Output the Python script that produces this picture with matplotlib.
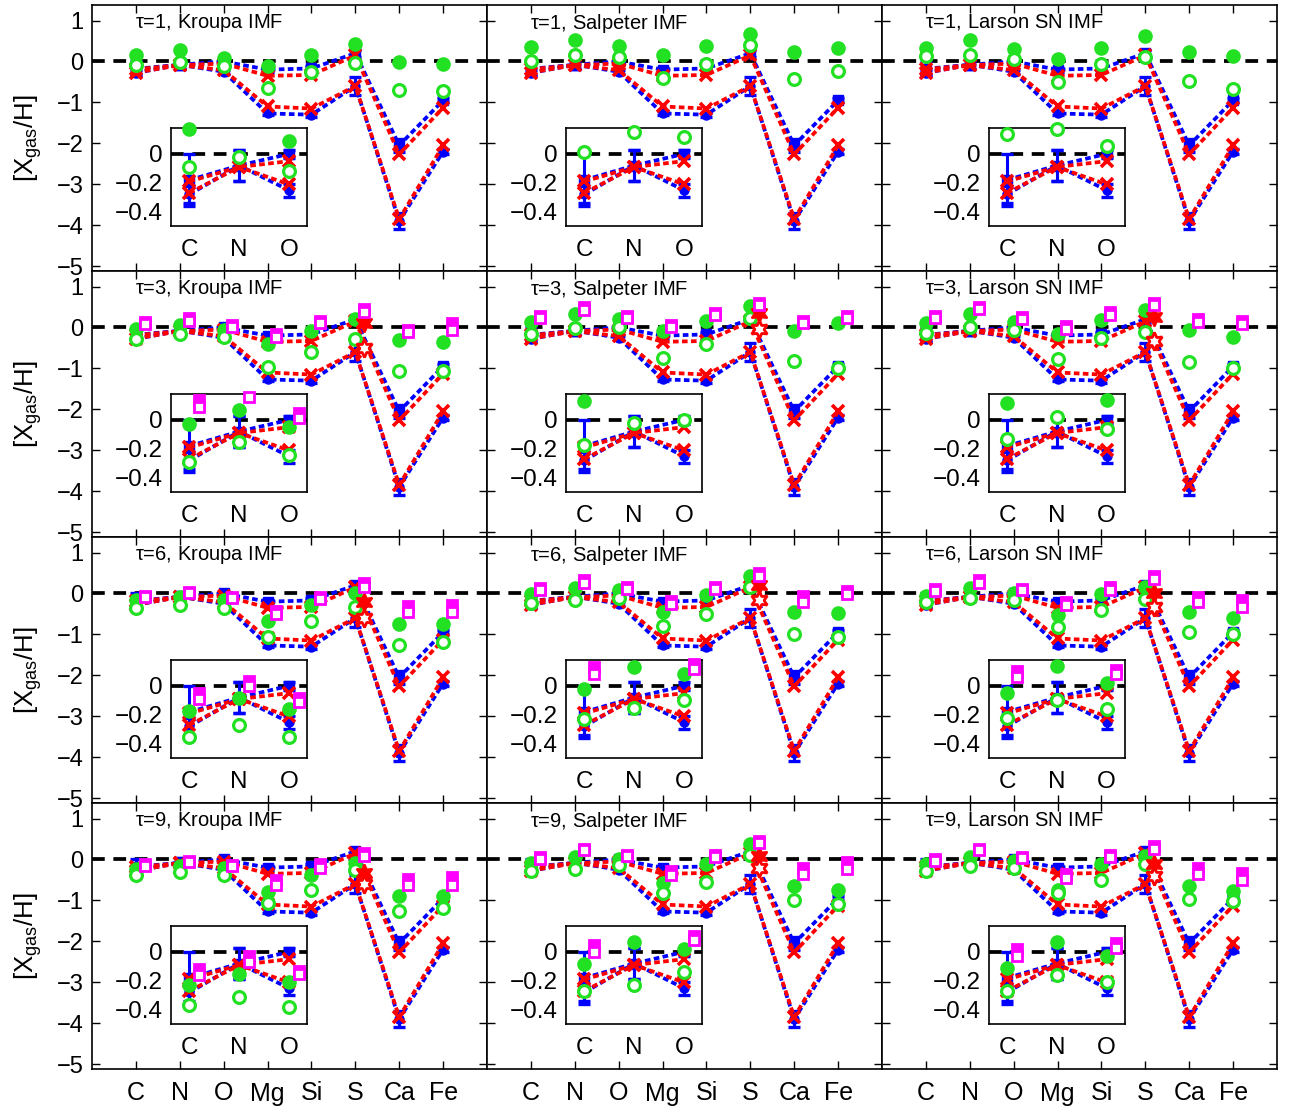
import numpy as np
import matplotlib
matplotlib.use("Agg")
import matplotlib.pyplot as plt

plt.rcParams['font.family'] = ['Liberation Sans', 'DejaVu Sans']

elements = ['C', 'N', 'O', 'Mg', 'Si', 'S', 'Ca', 'Fe']
taus = [1, 3, 6, 9]
imfs = ['Kroupa IMF', 'Salpeter IMF', 'Larson SN IMF']
yticks_main = [-5, -4, -3, -2, -1, 0, 1]
yticks_inset = [-0.4, -0.2, 0]

# observed (blue) and reference model (red) abundances, same in all panels
obs_upper = [-0.18, -0.08, 0.0, -0.2, -0.17, 0.2, -2.05, -0.95]
obs_upper_err = [0.18, 0.11, 0.03, 0.05, 0.05, 0.08, 0.15, 0.05]
obs_lower = [-0.28, -0.08, -0.25, -1.27, -1.3, -0.6, -3.9, -2.2]
obs_lower_err = [0.06, 0.11, 0.045, 0.05, 0.05, 0.22, 0.2, 0.05]
model_upper = [-0.19, -0.09, -0.05, -0.35, -0.33, 0.15, -2.27, -1.13]
model_lower = [-0.27, -0.09, -0.21, -1.1, -1.15, -0.6, -3.85, -2.05]

# green filled / green open per tau: [Kroupa, Salpeter, Larson]
gfill_tau1 = [[0.17, 0.27, 0.09, -0.11, 0.15, 0.42, -0.02, -0.06],
              [0.35, 0.52, 0.38, 0.16, 0.37, 0.66, 0.23, 0.34],
              [0.33, 0.52, 0.30, 0.07, 0.34, 0.62, 0.23, 0.13]]
gopen_tau1 = [[-0.09, -0.02, -0.12, -0.65, -0.25, -0.04, -0.70, -0.73],
              [0.01, 0.15, 0.12, -0.40, -0.06, 0.41, -0.44, -0.24],
              [0.14, 0.17, 0.055, -0.49, -0.06, 0.10, -0.47, -0.67]]
gfill_tau3 = [[-0.03, 0.07, -0.05, -0.40, -0.08, 0.20, -0.31, -0.35],
              [0.13, 0.34, 0.20, -0.08, 0.16, 0.52, -0.08, 0.10],
              [0.12, 0.34, 0.14, -0.15, 0.18, 0.43, -0.07, -0.23]]
gopen_tau3 = [[-0.29, -0.15, -0.24, -0.97, -0.59, -0.27, -1.07, -1.07],
              [-0.17, -0.02, 0.0, -0.74, -0.41, 0.23, -0.82, -0.98],
              [-0.13, 0.02, -0.06, -0.78, -0.26, -0.12, -0.84, -1.00]]
gfill_tau6 = [[-0.17, -0.085, -0.16, -0.68, -0.29, 0.0, -0.74, -0.74],
              [-0.02, 0.13, 0.08, -0.45, -0.04, 0.43, -0.45, -0.47],
              [-0.05, 0.14, 0.02, -0.52, -0.02, 0.16, -0.45, -0.61]]
gopen_tau6 = [[-0.35, -0.27, -0.35, -1.07, -0.67, -0.33, -1.25, -1.19],
              [-0.23, -0.155, -0.10, -0.80, -0.51, 0.16, -0.98, -1.07],
              [-0.22, -0.10, -0.16, -0.82, -0.41, -0.14, -0.94, -1.00]]
gfill_tau9 = [[-0.23, -0.15, -0.21, -0.80, -0.37, -0.08, -0.90, -0.90],
              [-0.085, 0.07, 0.02, -0.57, -0.12, 0.37, -0.64, -0.74],
              [-0.11, 0.07, -0.03, -0.74, -0.11, 0.08, -0.66, -0.78]]
gopen_tau9 = [[-0.37, -0.31, -0.38, -1.07, -0.74, -0.26, -1.27, -1.19],
              [-0.27, -0.23, -0.14, -0.82, -0.56, 0.12, -1.00, -1.10],
              [-0.27, -0.16, -0.21, -0.82, -0.49, -0.12, -0.96, -1.02]]

# magenta filled / open squares per tau (none for tau=1)
mfill_tau3 = [[0.14, 0.22, 0.05, -0.17, 0.15, 0.44, -0.05, 0.12],
              [0.28, 0.50, 0.29, 0.05, 0.36, 0.60, 0.16, 0.29],
              [0.28, 0.50, 0.26, 0.03, 0.37, 0.60, 0.20, 0.17]]
mopen_tau3 = [[0.09, 0.16, 0.01, -0.23, 0.10, 0.38, -0.12, -0.07],
              [0.22, 0.42, 0.24, 0.0, 0.30, 0.54, 0.10, 0.22],
              [0.22, 0.44, 0.21, -0.03, 0.31, 0.54, 0.13, 0.08]]
mfill_tau6 = [[-0.05, 0.035, -0.08, -0.42, -0.08, 0.25, -0.30, -0.27],
              [0.13, 0.32, 0.15, -0.18, 0.16, 0.50, -0.05, 0.05],
              [0.10, 0.33, 0.11, -0.20, 0.16, 0.43, -0.08, -0.15]]
mopen_tau6 = [[-0.09, 0.0, -0.11, -0.50, -0.14, 0.17, -0.45, -0.45],
              [0.08, 0.26, 0.12, -0.26, 0.10, 0.43, -0.20, -0.02],
              [0.06, 0.26, 0.08, -0.29, 0.09, 0.36, -0.20, -0.33]]
mfill_tau9 = [[-0.12, -0.03, -0.13, -0.50, -0.12, 0.17, -0.48, -0.43],
              [0.05, 0.26, 0.11, -0.27, 0.12, 0.46, -0.20, -0.05],
              [0.02, 0.26, 0.06, -0.35, 0.12, 0.33, -0.20, -0.33]]
mopen_tau9 = [[-0.16, -0.07, -0.15, -0.62, -0.20, 0.09, -0.62, -0.62],
              [0.0, 0.22, 0.08, -0.37, 0.05, 0.40, -0.36, -0.24],
              [-0.03, 0.22, 0.03, -0.45, 0.05, 0.25, -0.36, -0.50]]

# red hexagram values at S (filled, open) per tau: [Kroupa, Salpeter, Larson]
sfill_tau3 = [0.12, 0.35, 0.25]
sopen_tau3 = [-0.50, -0.04, -0.33]
sfill_tau6 = [-0.20, 0.20, 0.0]
sopen_tau6 = [-0.60, -0.16, -0.33]
sfill_tau9 = [-0.33, 0.08, -0.12]
sopen_tau9 = [-0.61, -0.20, -0.41]

gfill = {1: gfill_tau1, 3: gfill_tau3, 6: gfill_tau6, 9: gfill_tau9}
gopen = {1: gopen_tau1, 3: gopen_tau3, 6: gopen_tau6, 9: gopen_tau9}
mfill = {3: mfill_tau3, 6: mfill_tau6, 9: mfill_tau9}
mopen = {3: mopen_tau3, 6: mopen_tau6, 9: mopen_tau9}
sfill = {3: sfill_tau3, 6: sfill_tau6, 9: sfill_tau9}
sopen = {3: sopen_tau3, 6: sopen_tau6, 9: sopen_tau9}

GREEN = '#22e022'
MAG = '#ff00ff'
hexagram = (6, 1, 0)

W, H = 1290, 1113
fig = plt.figure(figsize=(W / 100, H / 100), dpi=100)

col_left = [92, 487, 882]
col_w = 395
row_top = [5, 271, 537, 803]
row_h = 266
dash_col = (0, (1.5, 0.9))
dash_zero = (0, (3.4, 2.3))


def draw(ax, n):
    x = np.arange(1, n + 1)
    ou, oue = np.array(obs_upper[:n]), np.array(obs_upper_err[:n])
    ol, ole = np.array(obs_lower[:n]), np.array(obs_lower_err[:n])
    ax.axhline(0, color='k', ls=dash_zero, lw=2.7, zorder=1)
    for y, e, mk in [(ou, oue, 's'), (ol, ole, 'o')]:
        ax.errorbar(x, y, yerr=e, fmt='none', ecolor='blue', elinewidth=2.2,
                    capsize=4, capthick=2.4, zorder=2)
        ax.plot(x, y, color='blue', ls=dash_col, lw=2.7, marker=mk, ms=6.5,
                mfc='blue', mec='blue', zorder=3)
    for y in [model_upper[:n], model_lower[:n]]:
        ax.plot(x, y, color='red', ls=dash_col, lw=2.7, marker='x', ms=9,
                mew=2.6, zorder=4)


def pts(ax, xs, ys, ylo, yhi, **kw):
    xs = np.asarray(xs, float)
    ys = np.asarray(ys, float)
    m = (ys >= ylo) & (ys <= yhi)
    ax.plot(xs[m], ys[m], ls='none', clip_on=False, **kw)


for r, tau in enumerate(taus):
    for c, imf in enumerate(imfs):
        left = col_left[c] / W
        bottom = (H - row_top[r] - row_h) / H
        ax = fig.add_axes([left, bottom, col_w / W, row_h / H])
        draw(ax, 8)
        x = np.arange(1, 9)
        if tau in mfill:
            pts(ax, x + 0.2, mopen[tau][c], -9, 9, marker='s', ms=7.5, mfc='white',
                mec=MAG, mew=2, zorder=7)
            pts(ax, x + 0.2, mfill[tau][c], -9, 9, marker='s', ms=7.5, mfc=MAG,
                mec=MAG, mew=2, zorder=6)
            pts(ax, [6.2], [sfill[tau][c]], -9, 9, marker=hexagram, ms=13,
                mfc='red', mec='red', mew=1.5, zorder=6)
            pts(ax, [6.2], [sopen[tau][c]], -9, 9, marker=hexagram, ms=13,
                mfc='white', mec='red', mew=2, zorder=6)
        pts(ax, x, gfill[tau][c], -9, 9, marker='o', ms=9.5, mfc=GREEN, mec=GREEN,
            zorder=5)
        pts(ax, x, gopen[tau][c], -9, 9, marker='o', ms=8.5, mfc='white', mec=GREEN,
            mew=2.3, zorder=5)
        ax.set_xlim(0, 9)
        ax.set_ylim(-5.12, 1.38)
        ax.set_xticks(x)
        ax.set_yticks(yticks_main)
        ax.tick_params(direction='in', length=6, width=1, top=True, right=True,
                       labelsize=17, pad=6)
        ax.tick_params(axis='x', labelsize=18, pad=9)
        if r == 3:
            ax.set_xticklabels(elements)
        else:
            ax.set_xticklabels([])
        if c != 0:
            ax.set_yticklabels([])
        for s in ax.spines.values():
            s.set_linewidth(1.2)
        ax.text(0.11, 0.975, r'$\mathregular{\tau}$=%d, %s' % (tau, imf),
                transform=ax.transAxes, ha='left', va='top', fontsize=14.5)

        # inset
        ix0 = 0.20 if c < 2 else 0.27
        ia = ax.inset_axes([ix0, 0.168, 0.345, 0.37])
        ylo, yhi = -0.5, 0.18
        draw(ia, 3)
        xi = np.arange(1, 4)
        if tau in mfill:
            pts(ia, xi + 0.2, mopen[tau][c][:3], ylo, yhi, marker='s', ms=7.5,
                mfc='white', mec=MAG, mew=2, zorder=7)
            pts(ia, xi + 0.2, mfill[tau][c][:3], ylo, yhi, marker='s', ms=7.5,
                mfc=MAG, mec=MAG, mew=2, zorder=6)
        pts(ia, xi, gfill[tau][c][:3], ylo, yhi, marker='o', ms=9.5, mfc=GREEN,
            mec=GREEN, zorder=5)
        pts(ia, xi, gopen[tau][c][:3], ylo, yhi, marker='o', ms=8.5,
            mfc='white', mec=GREEN, mew=2.3, zorder=5)
        ia.set_xlim(0.63, 3.37)
        ia.set_ylim(ylo, yhi)
        ia.set_xticks(xi)
        ia.set_xticklabels(elements[:3])
        ia.set_yticks(yticks_inset)
        ia.set_yticklabels(['\u22120.4', '\u22120.2', '0'])
        ia.tick_params(length=0, labelsize=17.5, pad=6)
        ia.tick_params(axis='x', pad=9)
        for s in ia.spines.values():
            s.set_linewidth(1.2)

    yc = 1 - (row_top[r] + row_h / 2) / H
    fig.text(0.022, yc, r'[X$_{\mathregular{gas}}$/H]', rotation=90,
             ha='center', va='center', fontsize=18.5)

fig.savefig('out.png', dpi=100)
